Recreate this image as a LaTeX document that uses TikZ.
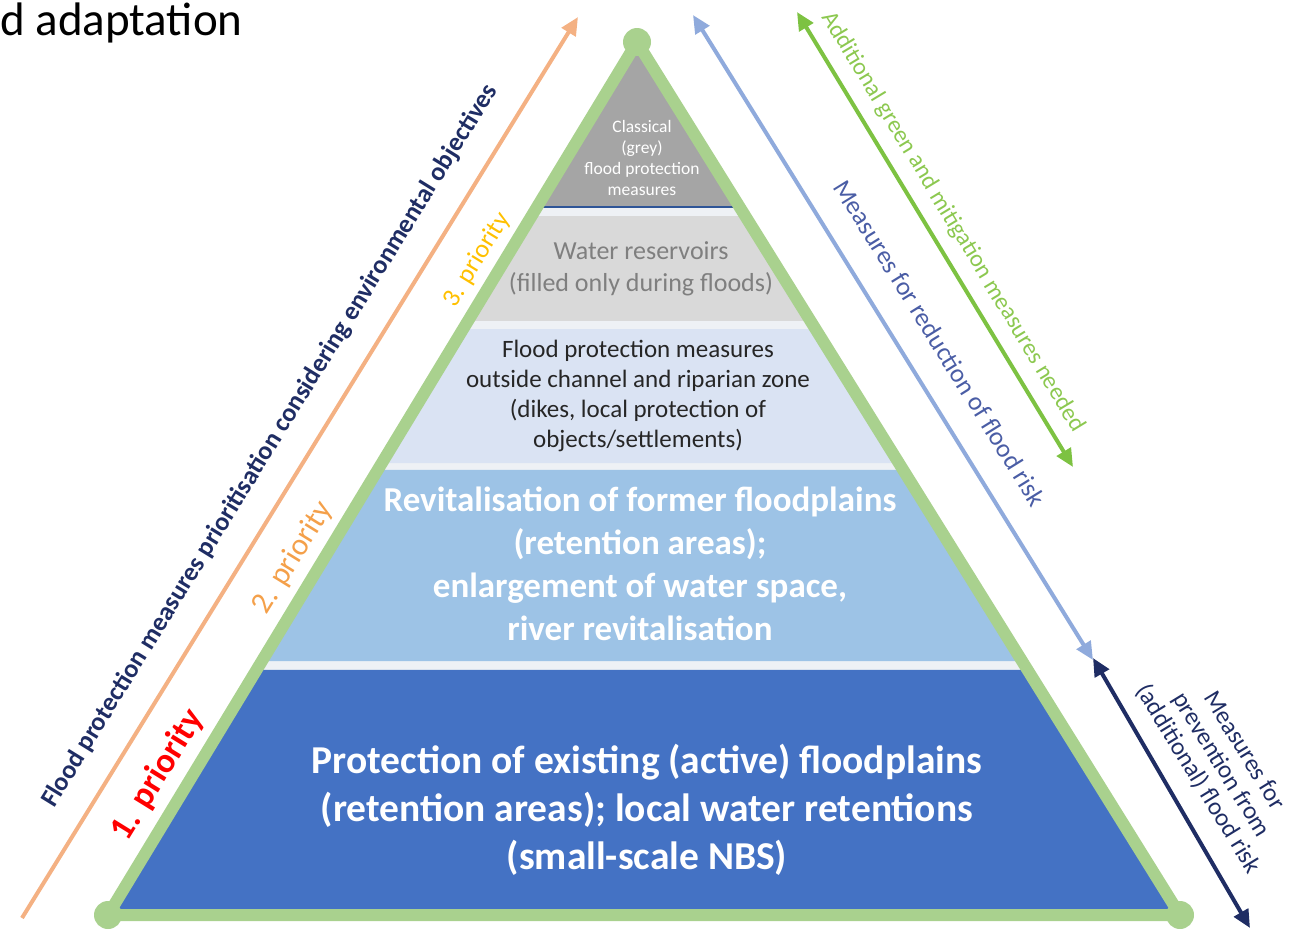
\documentclass[tikz,border=0pt]{standalone}
\usepackage{fontspec}
\setmainfont{Carlito}
\usepackage{xcolor}
\usetikzlibrary{calc,arrows.meta}
\definecolor{framegreen}{HTML}{A9D18E}
\definecolor{gap}{HTML}{EEF1F5}
\definecolor{greyTop}{HTML}{A5A5A5}
\definecolor{greyLight}{HTML}{D9D9D9}
\definecolor{blueFaint}{HTML}{DAE3F3}
\definecolor{blueLight}{HTML}{9DC3E6}
\definecolor{blueDark}{HTML}{4472C4}
\definecolor{edgeblue}{HTML}{2F5597}
\definecolor{navy}{HTML}{1F2D64}
\definecolor{orangeline}{HTML}{F4B183}
\definecolor{orangetext}{HTML}{F4A04A}
\definecolor{gold}{HTML}{FFC000}
\definecolor{redtext}{HTML}{FF0000}
\definecolor{skyline}{HTML}{8FAADC}
\definecolor{skytext}{HTML}{4A5DA5}
\definecolor{greenline}{HTML}{7DC242}
\definecolor{greentext}{HTML}{8CC850}
\definecolor{greytext}{HTML}{7F7F7F}
\tikzset{
  frame/.style={draw=framegreen, line width=12pt, line join=round},
  vertex/.style={fill=framegreen},
  axis/.style={line width=4pt},
  lab/.style={align=center, inner sep=0pt},
}
\newcommand{\fs}[2]{\fontsize{#1}{#2}\selectfont}

\begin{document}
\begin{tikzpicture}[x=1pt, y=-1pt, >={Triangle[length=18pt,width=16pt]}]
  \useasboundingbox (0,0) rectangle (1306,932);

  \coordinate (T) at (637,42);
  \coordinate (L) at (108,915);
  \coordinate (R) at (1180,915);

  % layers of the pyramid
  \fill[gap] (T) -- (L) -- (R) -- cycle;
  \foreach \ya/\yb/\col in {42/207/greyTop, 216/321/greyLight, 329/463/blueFaint,
                           470/661/blueLight, 670/915/blueDark}
    \fill[\col] ($(T)!{(\ya-42)/873}!(L)$) -- ($(T)!{(\ya-42)/873}!(R)$)
      -- ($(T)!{(\yb-42)/873}!(R)$) -- ($(T)!{(\yb-42)/873}!(L)$) -- cycle;
  \draw[edgeblue, line width=1.5pt] ($(T)!{165/873}!(L)$) -- ($(T)!{165/873}!(R)$);

  \draw[frame] (T) -- (L) -- (R) -- cycle;
  \fill[vertex] (T) circle (14);
  \fill[vertex] (L) circle (14);
  \fill[vertex] (R) circle (14);

  \node[lab, text=white, font=\fs{17.5}{21}] (classical) at (642,158)
    {Classical\\(grey)\\flood protection\\measures};
  \node[lab, text=greytext, font=\fs{26}{32}] (reservoirs) at (641,269)
    {Water reservoirs\\(filled only during floods)};
  \node[lab, text=black!85, font=\fs{25}{30}] (outside) at (638,396)
    {Flood protection measures\\outside channel and riparian zone\\(dikes, local protection of\\objects/settlements)};
  \node[lab, text=white, font=\bfseries\fs{35}{43}] (revital) at (640,564)
    {Revitalisation of former floodplains\\(retention areas);\\enlargement of water space,\\river revitalisation};
  \node[lab, text=white, font=\bfseries\fs{39.5}{48}] (existing) at (647,810)
    {Protection of existing (active) floodplains\\(retention areas); local water retentions\\(small-scale NBS)};

  % left side: priorities
  \coordinate (oa) at (22,918);
  \coordinate (ob) at (578,17);
  \draw[axis, orangeline, ->] (oa) -- (ob);
  \node[lab, text=navy, font=\bfseries\fs{26}{30}, rotate=58.3] (prio) at (270,446)
    {Flood protection measures prioritisation considering environmental objectives};
  \node[lab, text=redtext, font=\bfseries\fs{35}{40}, rotate=58.3] (p1) at (158,775) {1. priority};
  \node[lab, text=orangetext, font=\fs{31}{35}, rotate=58.3] (p2) at (293,558) {2. priority};
  \node[lab, text=gold, font=\fs{26}{30}, rotate=58.3] (p3) at (477,260) {3. priority};

  % right side: measures
  \coordinate (sa) at (693,15);
  \coordinate (sb) at (1093,660);
  \draw[axis, skyline, <->] (sa) -- (sb);
  \node[lab, text=skytext, font=\fs{26}{30}, rotate=-58.2] (reduce) at (940,343)
    {Measures for reduction of flood risk};

  \coordinate (ga) at (797,12);
  \coordinate (gb) at (1073,467);
  \draw[axis, greenline, <->] (ga) -- (gb);
  \node[lab, text=greentext, font=\fs{24}{28}, rotate=-58.8] (green) at (953,222)
    {Additional green and mitigation measures needed};

  \coordinate (na) at (1093,658);
  \coordinate (nb) at (1250,928);
  \draw[axis, navy, <->] (na) -- (nb);
  \node[lab, text=navy, font=\fs{25}{27}, rotate=-58.5] (prevent) at (1221,765)
    {Measures for\\prevention from\\(additional) flood risk};

  \node[anchor=base west, inner sep=0pt, font=\fs{47}{52}] (title) at (0,35) {d adaptation};
\end{tikzpicture}
\end{document}
